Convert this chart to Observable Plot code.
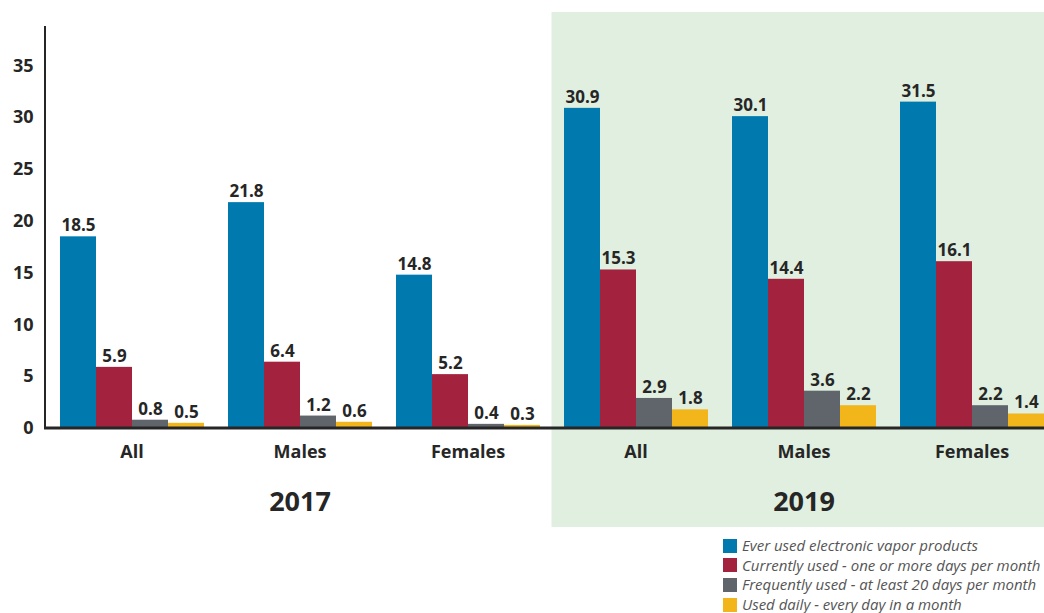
<!DOCTYPE html>
<html><head><meta charset="utf-8">
<script src="https://cdn.jsdelivr.net/npm/d3@7"></script>
<script src="https://cdn.jsdelivr.net/npm/@observablehq/plot@0.6"></script>
<style>
html,body{margin:0;padding:0;background:#fff;overflow:hidden;}
#wrap{position:relative;width:1044px;height:613px;font-family:"Open Sans",sans-serif;}
#legend{position:absolute;left:723px;top:536px;font-style:italic;font-size:15px;color:#555;}
#legend .row{display:flex;align-items:center;height:19.6px;line-height:19.6px;white-space:nowrap;}
#legend .sw{width:14px;height:14px;margin-right:5px;flex:none;}
</style></head>
<body><div id="wrap"><div id="chart"></div><div id="legend"></div></div>
<script>
// ---- data ----
const years = ["2017", "2017", "2017", "2019", "2019", "2019"];
const categories = ["All", "Males", "Females", "All", "Males", "Females"];
const seriesNames = [
  "Ever used electronic vapor products",
  "Currently used - one or more days per month",
  "Frequently used - at least 20 days per month",
  "Used daily - every day in a month"
];
const everUsed = [18.5, 21.8, 14.8, 30.9, 30.1, 31.5];
const currentlyUsed = [5.9, 6.4, 5.2, 15.3, 14.4, 16.1];
const frequentlyUsed = [0.8, 1.2, 0.4, 2.9, 3.6, 2.2];
const usedDaily = [0.5, 0.6, 0.3, 1.8, 2.2, 1.4];
const yTicks = [0, 5, 10, 15, 20, 25, 30, 35];
const colors = ["#0079ae", "#a3223e", "#60646b", "#f2b51a"];

// ---- table ----
const seriesValues = [everUsed, currentlyUsed, frequentlyUsed, usedDaily];
const groupKeys = years.map((y, i) => y + " " + categories[i]);
const rows = [];
groupKeys.forEach((g, i) => seriesNames.forEach((s, j) => rows.push({group: g, series: s, value: seriesValues[j][i]})));
const yearLabels = [{group: "2017 Males", label: "2017"}, {group: "2019 Males", label: "2019"}];

const W = 1044, H = 530, mL = 45, mT = 26, mB = 102;
const dark = "#262626";
const chart = Plot.plot({
  width: W, height: H,
  marginLeft: mL, marginRight: 0, marginTop: mT, marginBottom: mB,
  style: {fontFamily: "'Open Sans', sans-serif", background: "transparent", color: dark},
  fx: {domain: groupKeys, paddingInner: 0.137, paddingOuter: 0.0417, align: 1, label: null},
  x: {domain: seriesNames, padding: 0, axis: null},
  y: {domain: [0, 38.8], label: null},
  color: {domain: seriesNames, range: colors},
  marks: [
    Plot.axisY({ticks: yTicks, tickSize: 0, tickPadding: 26, fontSize: 18, fontWeight: "bold", label: null}),
    Plot.axisFx({anchor: "bottom", tickSize: 0, tickPadding: 17, fontSize: 18, fontWeight: "bold", label: null,
                 tickFormat: d => d.split(" ")[1]}),
    Plot.barY(rows, {fx: "group", x: "series", y: "value", fill: "series"}),
    Plot.text(rows, {fx: "group", x: "series", y: "value", text: d => d.value.toFixed(1), dy: -11,
                     fontSize: 17, fontWeight: "bold", fill: dark}),
    Plot.text(yearLabels, {fx: "group", text: "label", frameAnchor: "bottom", dy: 82,
                           fontSize: 27, fontWeight: "bold", fill: dark})
  ]
});
document.getElementById("chart").appendChild(chart);

// ---- decorations using the plot's scales ----
const svg = d3.select(chart);
const yS = chart.scale("y");
const fxS = chart.scale("fx");
const y0 = yS.apply(0), yTop = yS.apply(38.8);
let xStart = 552;
if (fxS && fxS.apply) {
  const endPrev = fxS.apply("2017 Females") + (fxS.bandwidth || 145);
  const startNext = fxS.apply("2019 All");
  xStart = (endPrev + startNext) / 2;
}
svg.insert("rect", ":first-child")
  .attr("x", xStart).attr("y", yTop - 14).attr("width", W - xStart).attr("height", H - 3 - (yTop - 14))
  .attr("fill", "#e0efdf");
svg.append("line").attr("x1", mL).attr("x2", mL).attr("y1", yTop).attr("y2", y0)
  .attr("stroke", dark).attr("stroke-width", 2);
svg.append("line").attr("x1", mL - 1).attr("x2", W).attr("y1", y0).attr("y2", y0)
  .attr("stroke", dark).attr("stroke-width", 3);

// ---- legend ----
const leg = document.getElementById("legend");
seriesNames.forEach((s, i) => {
  const r = document.createElement("div"); r.className = "row";
  r.innerHTML = `<span class="sw" style="background:${colors[i]}"></span><span>${s}</span>`;
  leg.appendChild(r);
});
</script></body></html>
